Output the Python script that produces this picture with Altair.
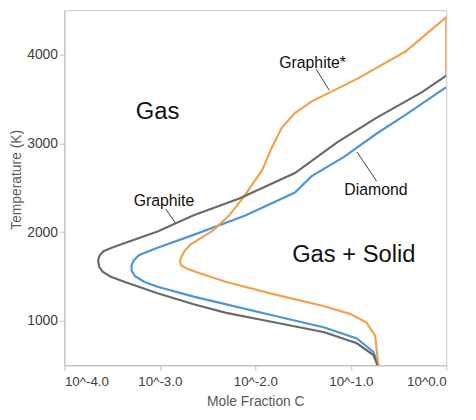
import altair as alt
import pandas as pd

# ---- data (x values are log10 of mole fraction C, T in kelvin) ----
series_names = ["Diamond", "Graphite*", "Graphite"]
series_colors = ["#4d94d8", "#f2a24c", "#6a6a6a"]
series_widths = [2.2, 2.2, 3.2]

graphite_x = [-0.72, -0.763, -0.937, -1.276, -1.79, -2.304, -2.646, -3.024, -3.366, -3.52,
              -3.6, -3.635, -3.647, -3.63, -3.59, -3.504, -3.366, -3.024, -2.646, -2.168,
              -1.585, -1.143, -0.732, -0.249, 0.0]
graphite_T = [500, 616, 748, 872, 982, 1091, 1187, 1311, 1439, 1500,
              1555, 1610, 1681, 1740, 1785, 1823, 1878, 2007, 2189, 2380,
              2665, 3012, 3287, 3580, 3763]

diamond_x = [-0.711, -0.763, -0.937, -1.276, -1.79, -2.304, -2.646, -3.024, -3.16, -3.26,
             -3.295, -3.298, -3.275, -3.22, -3.024, -2.646, -2.099, -1.585, -1.413, -1.071,
             -0.732, -0.423, 0.0]
diamond_T = [500, 652, 802, 926, 1055, 1187, 1274, 1384, 1439, 1505,
             1565, 1622, 1680, 1740, 1823, 1969, 2189, 2446, 2628, 2847,
             3108, 3324, 3634]

graphite_star_x = [-0.711, -0.745, -0.835, -1.002, -1.276, -1.79, -2.304, -2.613, -2.72, -2.775,
                   -2.79, -2.78, -2.74, -2.681, -2.441, -2.273, -2.133, -1.927, -1.825, -1.722,
                   -1.585, -1.413, -1.208, -0.934, -0.423, 0.0, 0.0]
graphite_star_T = [500, 835, 981, 1077, 1165, 1296, 1439, 1549, 1590, 1625,
                   1665, 1710, 1790, 1859, 2020, 2189, 2380, 2701, 2957, 3177,
                   3341, 3470, 3580, 3726, 4037, 4422, 3770]

# region labels
region_text = ["Gas", "Gas + Solid"]
region_x = [-3.024, -0.968]
region_T = [3352, 1743]

# curve labels
curve_text = ["Graphite", "Graphite*", "Diamond"]
curve_x = [-2.957, -1.40, -0.737]
curve_T = [2353, 3909, 2474]

# leader lines
leader_x = [-2.938, -1.362, -0.934]
leader_x2 = [-2.835, -1.225, -0.729]
leader_T = [2262, 3835, 2902]
leader_T2 = [2098, 3598, 2573]

x_ticks = [-4, -3, -2, -1, 0]
y_ticks = [1000, 2000, 3000, 4000]

rows = []
for name, xs, ts in [("Diamond", diamond_x, diamond_T),
                     ("Graphite*", graphite_star_x, graphite_star_T),
                     ("Graphite", graphite_x, graphite_T)]:
    for i, (xv, tv) in enumerate(zip(xs, ts)):
        rows.append({"series": name, "logx": xv, "T": tv, "idx": i})
df = pd.DataFrame(rows)

region_df = pd.DataFrame({"label": region_text, "x": region_x, "T": region_T})
curve_df = pd.DataFrame({"label": curve_text, "x": curve_x, "T": curve_T})
leader_df = pd.DataFrame({"x": leader_x, "x2": leader_x2, "T": leader_T, "T2": leader_T2})

FONT = "Liberation Sans"
xscale = alt.Scale(domain=[-4, 0], nice=False, zero=False)
yscale = alt.Scale(domain=[500, 4500], nice=False, zero=False)

x_axis = alt.Axis(values=x_ticks, title="Mole Fraction C",
                  labelExpr="'10^' + (datum.value < 0 ? '-' : '') + abs(datum.value) + '.0'",
                  labelFontSize=13.5, labelPadding=4, titlePadding=7)
y_axis = alt.Axis(values=y_ticks, title="Temperature (K)", format="d",
                  labelFontSize=14, labelPadding=2, titlePadding=3, titleY=171)

lines = alt.Chart(df).mark_line(clip=True).encode(
    x=alt.X("logx:Q", scale=xscale, axis=x_axis),
    y=alt.Y("T:Q", scale=yscale, axis=y_axis),
    color=alt.Color("series:N", scale=alt.Scale(domain=series_names, range=series_colors), legend=None),
    strokeWidth=alt.StrokeWidth("series:N", scale=alt.Scale(domain=series_names, range=series_widths), legend=None),
    detail="series:N",
    order="idx:Q",
)

leaders = alt.Chart(leader_df).mark_rule(color="#404040", strokeWidth=1).encode(
    x=alt.X("x:Q", scale=xscale), x2="x2:Q",
    y=alt.Y("T:Q", scale=yscale), y2="T2:Q",
)

region_labels = alt.Chart(region_df).mark_text(
    font=FONT, fontSize=24, color="#111111", align="center", baseline="middle"
).encode(x=alt.X("x:Q", scale=xscale), y=alt.Y("T:Q", scale=yscale), text="label:N")

curve_labels = alt.Chart(curve_df).mark_text(
    font=FONT, fontSize=16, color="#111111", align="center", baseline="middle"
).encode(x=alt.X("x:Q", scale=xscale), y=alt.Y("T:Q", scale=yscale), text="label:N")

chart = alt.layer(lines, leaders, region_labels, curve_labels).properties(
    width=386, height=359, background="white",
    autosize=alt.AutoSizeParams(type="none"),
    padding={"left": 57, "top": 0, "right": 22, "bottom": 45},
).configure_view(
    stroke="#c8c8c8", strokeWidth=1
).configure_axis(
    grid=False, domainColor="#bfbfbf", tickColor="#bfbfbf", tickSize=5,
    labelFont=FONT, titleFont=FONT, titleFontSize=14,
    labelColor="#404040", titleColor="#595959", titleFontWeight="normal",
)

chart.save("out.html", embed_options={"renderer": "svg", "actions": False})
